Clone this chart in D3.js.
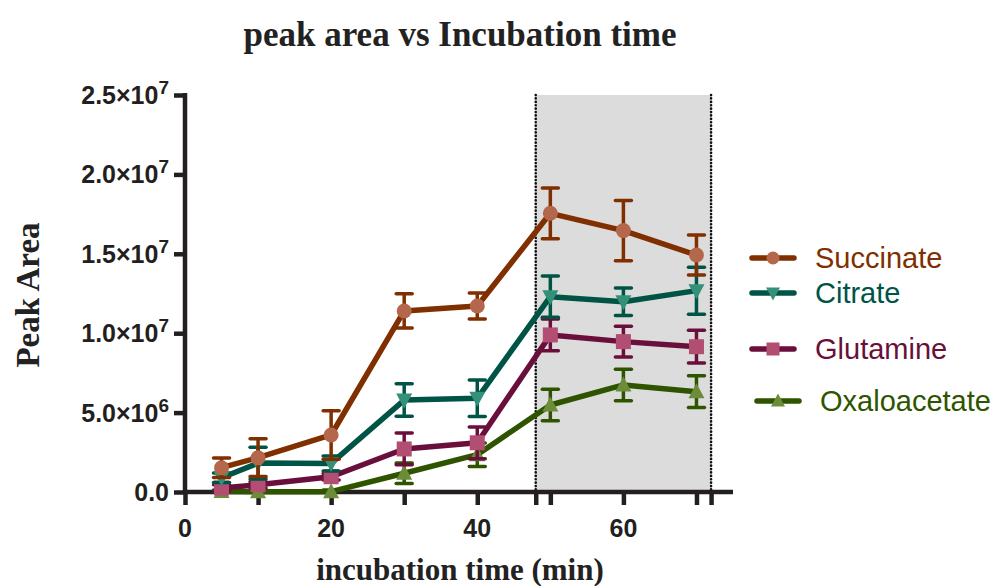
<!DOCTYPE html>
<html><head><meta charset="utf-8">
<script src="https://cdn.jsdelivr.net/npm/d3@7"></script>
<style>body{margin:0;background:#fff}</style></head>
<body><svg id="c" width="997" height="586"></svg>
<script>
const times = [5, 10, 20, 30, 40, 50, 60, 70];
const seriesNames = ["Succinate", "Citrate", "Glutamine", "Oxaloacetate"];
const succinate = [1.53e6, 2.16e6, 3.59e6, 11.4e6, 11.71e6, 17.55e6, 16.46e6, 14.92e6];
const succinateErr = [0.61e6, 1.19e6, 1.53e6, 1.08e6, 0.82e6, 1.6e6, 1.9e6, 1.26e6];
const citrate = [0.9e6, 1.82e6, 1.8e6, 5.79e6, 5.9e6, 12.3e6, 11.98e6, 12.68e6];
const citrateErr = [0.3e6, 1.0e6, 0.47e6, 1.02e6, 1.15e6, 1.3e6, 0.86e6, 1.48e6];
const glutamine = [0.25e6, 0.45e6, 0.96e6, 2.71e6, 3.1e6, 9.89e6, 9.47e6, 9.15e6];
const glutamineErr = [0.2e6, 0.2e6, 0.2e6, 1.0e6, 1.0e6, 1.0e6, 0.97e6, 1.03e6];
const oxaloacetate = [0.03e6, 0.02e6, 0.02e6, 1.18e6, 2.35e6, 5.48e6, 6.74e6, 6.32e6];
const oxaloacetateErr = [0.1e6, 0.1e6, 0.1e6, 0.65e6, 0.74e6, 0.99e6, 0.99e6, 1.0e6];
const yTicks = [0, 5e6, 1e7, 1.5e7, 2e7, 2.5e7];
const yTickLabels = [["0.0",""],["5.0×10","6"],["1.0×10","7"],["1.5×10","7"],["2.0×10","7"],["2.5×10","7"]];
const xTicks = [0, 10, 20, 30, 40, 48, 50, 60, 70, 72];
const xTickLabels = {0:"0", 20:"20", 40:"40", 60:"60"};
const shadeRange = [48, 72];

const lineColors = ["#7f2f00", "#005446", "#6a0f3b", "#2e5400"];
const markerColors = ["#b5674b", "#349078", "#b14e71", "#6c8c3a"];
const markerTypes = ["circle", "down", "square", "up"];

const svg = d3.select("#c");
const x = d3.scaleLinear().domain([0, 75]).range([185, 733]);
const y = d3.scaleLinear().domain([0, 2.5e7]).range([492, 95]);
const axisColor = "#231f20";

// shaded region
svg.append("rect").attr("x", x(shadeRange[0])).attr("y", y(2.5e7))
  .attr("width", x(shadeRange[1]) - x(shadeRange[0])).attr("height", y(0) - y(2.5e7))
  .attr("fill", "#dcdcdc");
shadeRange.forEach(v => {
  svg.append("line").attr("x1", x(v)).attr("x2", x(v)).attr("y1", y(2.5e7)).attr("y2", y(0))
    .attr("stroke", "#111").attr("stroke-width", 2.6).attr("stroke-dasharray", "0.1,3.3").attr("stroke-linecap", "round");
});

// axes
const yAxis = d3.axisLeft(y).tickValues(yTicks).tickSize(11).tickFormat("");
const gy = svg.append("g").attr("transform", `translate(${x(0)},0)`).call(yAxis);
const xAxis = d3.axisBottom(x).tickValues(xTicks).tickSize(13).tickFormat("");
const gx = svg.append("g").attr("transform", `translate(0,${y(0)})`).call(xAxis);
[gx, gy].forEach(g => {
  g.select(".domain").attr("stroke", axisColor).attr("stroke-width", 4.5);
  g.selectAll(".tick line").attr("stroke", axisColor).attr("stroke-width", 4.5);
});
gy.select(".domain").attr("d", `M0,${y(2.5e7)-2}V${y(0)+2}`);
gy.selectAll(".tick line").attr("x2", -11);
gx.select(".domain").attr("d", `M${x(0)-2},0H${x(75)}`);

// y tick labels
yTicks.forEach((v, i) => {
  const t = svg.append("text").attr("x", 169).attr("y", y(v) + 9)
    .attr("text-anchor", "end").attr("font-family", "Liberation Sans, Arial, sans-serif")
    .attr("font-weight", "bold").attr("font-size", 25).attr("fill", axisColor);
  t.append("tspan").text(yTickLabels[i][0]);
  if (yTickLabels[i][1]) t.append("tspan").attr("dy", -10).attr("font-size", 19).text(yTickLabels[i][1]);
});
// x tick labels
Object.keys(xTickLabels).forEach(k => {
  svg.append("text").attr("x", x(+k)).attr("y", 537).attr("text-anchor", "middle")
    .attr("font-family", "Liberation Sans, Arial, sans-serif").attr("font-weight", "bold")
    .attr("font-size", 25).attr("fill", axisColor).text(xTickLabels[k]);
});

// titles
svg.append("text").attr("x", 460).attr("y", 46).attr("text-anchor", "middle")
  .attr("font-family", "Liberation Serif, Times New Roman, serif").attr("font-weight", "bold")
  .attr("font-size", 35).attr("fill", "#222").text("peak area vs Incubation time");
svg.append("text").attr("x", 460).attr("y", 580).attr("text-anchor", "middle")
  .attr("font-family", "Liberation Serif, Times New Roman, serif").attr("font-weight", "bold")
  .attr("font-size", 31).attr("fill", "#222").text("incubation time (min)");
svg.append("text").attr("transform", "translate(39,295) rotate(-90)").attr("text-anchor", "middle")
  .attr("font-family", "Liberation Serif, Times New Roman, serif").attr("font-weight", "bold")
  .attr("font-size", 33).attr("fill", "#222").text("Peak Area");

// data
const vals = [succinate, citrate, glutamine, oxaloacetate];
const errs = [succinateErr, citrateErr, glutamineErr, oxaloacetateErr];

function drawMarker(g, type, cx, cy, color, s) {
  if (type === "circle") g.append("circle").attr("cx", cx).attr("cy", cy).attr("r", s).attr("fill", color);
  else if (type === "square") g.append("rect").attr("x", cx - s).attr("y", cy - s).attr("width", 2*s).attr("height", 2*s).attr("fill", color);
  else if (type === "down") g.append("path").attr("d", `M${cx-s-0.5},${cy-s+1}L${cx+s+0.5},${cy-s+1}L${cx},${cy+s+1}Z`).attr("fill", color);
  else g.append("path").attr("d", `M${cx-s-0.5},${cy+s-1}L${cx+s+0.5},${cy+s-1}L${cx},${cy-s-1}Z`).attr("fill", color);
}

const order = [3, 2, 1, 0];
order.forEach(si => {
  const g = svg.append("g");
  const col = lineColors[si];
  times.forEach((t, j) => {
    const v = vals[si][j], e = errs[si][j];
    const cx = x(t);
    g.append("line").attr("x1", cx).attr("x2", cx).attr("y1", y(v + e)).attr("y2", y(Math.max(0, v - e)))
      .attr("stroke", col).attr("stroke-width", 3.5);
    [v + e, v - e].forEach(w => {
      if (w < 0) return;
      g.append("line").attr("x1", cx - 8).attr("x2", cx + 8).attr("y1", y(w)).attr("y2", y(w))
        .attr("stroke", col).attr("stroke-width", 3.5).attr("stroke-linecap", "round");
    });
  });
  const line = d3.line().x((d, j) => x(times[j])).y(d => y(d));
  g.append("path").attr("d", line(vals[si])).attr("fill", "none").attr("stroke", col)
    .attr("stroke-width", 5.5).attr("stroke-linejoin", "round");
  times.forEach((t, j) => drawMarker(g, markerTypes[si], x(t), y(vals[si][j]), markerColors[si], 7.5));
});

// legend
const legY = [258, 293, 349, 401];
const legX = [752, 752, 752, 757];
seriesNames.forEach((n, i) => {
  const g = svg.append("g");
  g.append("line").attr("x1", legX[i]).attr("x2", legX[i] + 42).attr("y1", legY[i]).attr("y2", legY[i])
    .attr("stroke", lineColors[i]).attr("stroke-width", 5.5).attr("stroke-linecap", "round");
  drawMarker(g, markerTypes[i], legX[i] + 21, legY[i], markerColors[i], 6.5);
  g.append("text").attr("x", legX[i] + 63).attr("y", legY[i] + 10)
    .attr("font-family", "Liberation Sans, Arial, sans-serif").attr("font-size", 29)
    .attr("fill", lineColors[i]).text(n);
});
</script></body></html>
